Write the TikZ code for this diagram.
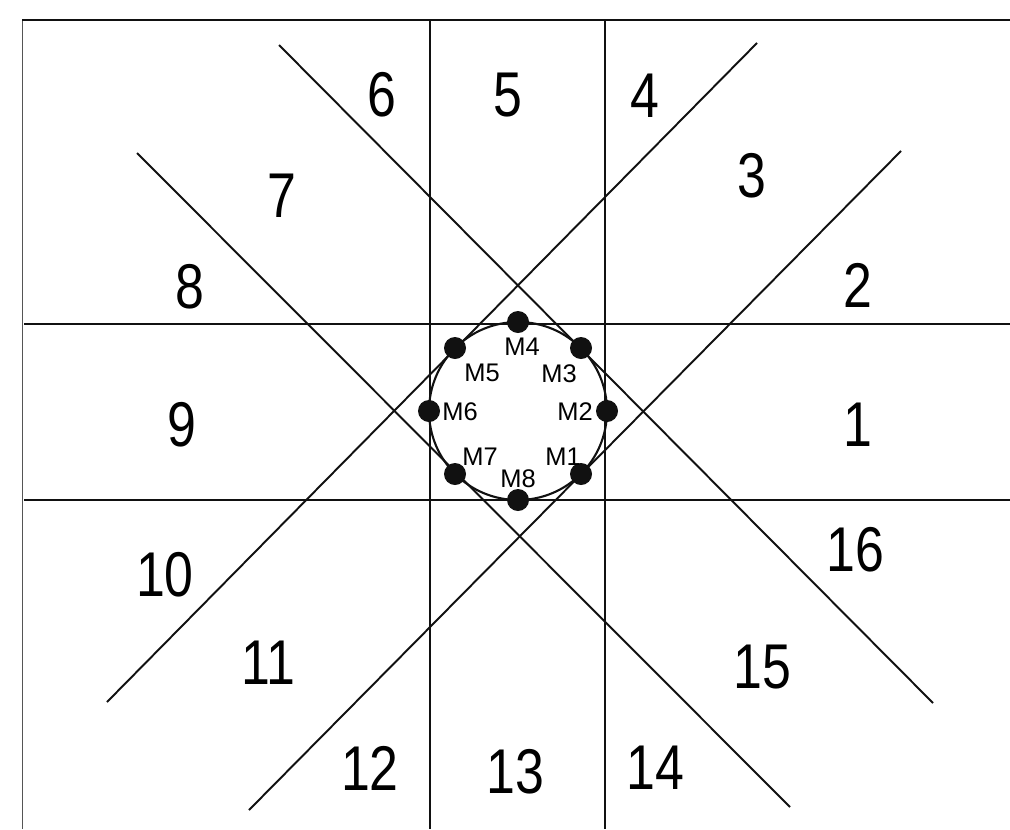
\documentclass[tikz,border=0pt]{standalone}
\usepackage{fontspec}
\setmainfont{Liberation Sans}
\newfontfamily\sectorfont[FakeStretch=0.82]{Liberation Sans}
\usepackage{tikz}
\usetikzlibrary{positioning}
\definecolor{LineBlack}{HTML}{111111}
\definecolor{FrameGray}{HTML}{555555}

\begin{document}
\begin{tikzpicture}[x=0.02cm, y=-0.02cm, every node/.style={align=center},
  sector/.style={font=\sectorfont\fontsize{36}{40}\selectfont, inner sep=0pt},
  mic/.style={circle, fill=LineBlack, inner sep=0pt, minimum size=0.44cm},
  miclabel/.style={font=\fontsize{14.5}{16}\selectfont, inner sep=0pt},
  guide/.style={line width=1.1pt, LineBlack}]
  \useasboundingbox (0,0) rectangle (1010,829);
  % frame
  \draw[thin, FrameGray] (22,829) -- (22,20);
  \draw[line width=0.9pt, LineBlack] (22,20) -- (1010,20);
  % straight guides
  \draw[guide] (430,20) -- (430,829);
  \draw[guide] (605,20) -- (605,829);
  \draw[guide] (24,324) -- (1010,324);
  \draw[guide] (24,500) -- (1010,500);
  % diagonal guides
  \draw[guide] (279,45) -- (933,703);
  \draw[guide] (757,43) -- (107,702);
  \draw[guide] (137,153) -- (790,807);
  \draw[guide] (901,151) -- (249,810);
  % array
  \coordinate (c) at (518,411);
  \draw[line width=1.2pt, LineBlack] (c) circle [radius=1.78cm];
  \node[mic] (m1) at (581,474) {};
  \node[mic] (m2) at (607,411) {};
  \node[mic] (m3) at (581,348) {};
  \node[mic] (m4) at (518,322) {};
  \node[mic] (m5) at (455,348) {};
  \node[mic] (m6) at (429,411) {};
  \node[mic] (m7) at (455,474) {};
  \node[mic] (m8) at (518,500) {};
  \node[miclabel] (l1) at (563,457) {M1};
  \node[miclabel] (l2) at (575,412) {M2};
  \node[miclabel] (l3) at (559,374) {M3};
  \node[miclabel] (l4) at (522,347) {M4};
  \node[miclabel] (l5) at (482,373) {M5};
  \node[miclabel] (l6) at (460,412) {M6};
  \node[miclabel] (l7) at (480,457) {M7};
  \node[miclabel] (l8) at (518,479) {M8};
  % sectors
  \node[sector] (s1) at (858,425) {1};
  \node[sector] (s2) at (858,285) {2};
  \node[sector] (s3) at (752,176) {3};
  \node[sector] (s4) at (645,96) {4};
  \node[sector] (s5) at (508,95) {5};
  \node[sector] (s6) at (382,95) {6};
  \node[sector] (s7) at (282,196) {7};
  \node[sector] (s8) at (190,287) {8};
  \node[sector] (s9) at (182,425) {9};
  \node[sector] (s10) at (165,575) {10};
  \node[sector] (s11) at (268,663) {11};
  \node[sector] (s12) at (370,768) {12};
  \node[sector] (s13) at (515,772) {13};
  \node[sector] (s14) at (655,768) {14};
  \node[sector] (s15) at (762,667) {15};
  \node[sector] (s16) at (855,550) {16};
\end{tikzpicture}
\end{document}
